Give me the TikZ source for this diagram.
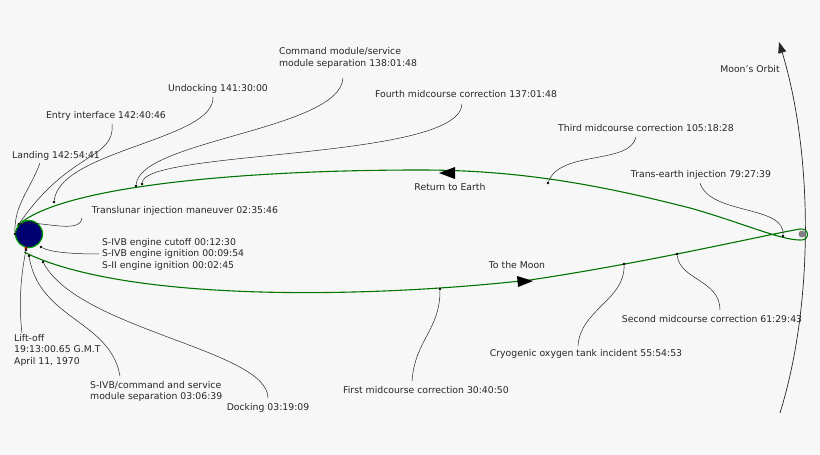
\documentclass[tikz,border=0pt]{standalone}
\usepackage{fontspec}
\setmainfont{DejaVu Sans}
\usetikzlibrary{arrows.meta}
\begin{document}
\begin{tikzpicture}[x=1pt,y=-1pt,
  traj/.style={draw=green!45!black,line width=1.1pt},
  lead/.style={draw=black!85,line width=0.5pt},
  lbl/.style={font=\fontsize{9.3}{11.5}\selectfont,inner sep=0pt,text=black!85},
  dotm/.style={circle,fill=black,inner sep=0pt,minimum size=2.6pt}]
\fill[black!3] (0,0) rectangle (820,455);
\useasboundingbox (0,0) rectangle (820,455);
% moon orbit
\draw[lead,line width=0.7pt,-{Triangle[length=11pt,width=8pt]}] (780,413) .. controls (815,300) and (812,150) .. (779,42);
\node[lbl] (mo) at (750,69) {Moon's Orbit};
% moon
\fill[gray] (802,234) circle (3.5);
% trajectory
\draw[traj] (24,252) .. controls (120,300) and (350,300) .. (530,280)
  .. controls (650,262) and (760,236) .. (800,229)
  .. controls (810,228) and (810,241) .. (800,240)
  .. controls (780,240) and (740,222) .. (690,208)
  .. controls (600,185) and (520,170) .. (420,170)
  .. controls (250,170) and (60,185) .. (17,226);
\fill (439,173) -- (455,167) -- (455,179) -- cycle;
\fill (533,281) -- (517,276) -- (518,287) -- cycle;
% earth
\draw[green!60!black,line width=1.2pt,fill=blue!45!black] (29,234) circle (13.5);
\fill[red!70!black] (26,248) circle (1.6);
% dots
\node[dotm] (dL) at (15,234) {};
\node[dotm] (dE) at (19,224) {};
\node[dotm] (dU) at (54,202) {};
\node[dotm] (dC) at (136,186) {};
\node[dotm] (dF) at (142,184) {};
\node[dotm] (dT) at (548,183) {};
\node[dotm] (dTE) at (783,236) {};
\node[dotm] (dS) at (41,247) {};
\node[dotm] (dLO) at (26,250) {};
\node[dotm] (dSC) at (29,256) {};
\node[dotm] (dD) at (43,262) {};
\node[dotm] (d1) at (440,289) {};
\node[dotm] (dCr) at (624,264) {};
\node[dotm] (d2) at (677,254) {};
% labels
\node[lbl] (tL) at (56,156) {Landing 142:54:41};
\node[lbl] (tE) at (106,116) {Entry interface 142:40:46};
\node[lbl] (tU) at (218,89) {Undocking 141:30:00};
\node[lbl,align=left] (tC) at (348,58) {Command module/service\\module separation 138:01:48};
\node[lbl] (tF) at (466,94) {Fourth midcourse correction 137:01:48};
\node[lbl] (tT) at (646,128) {Third midcourse correction 105:18:28};
\node[lbl] (tTE) at (701,175) {Trans-earth injection 79:27:39};
\node[lbl] (tR) at (450,187) {Return to Earth};
\node[lbl] (tM) at (517,265) {To the Moon};
\node[lbl] (tTL) at (185,211) {Translunar injection maneuver 02:35:46};
\node[lbl,align=left,anchor=west] (tS) at (102,254) {S-IVB engine cutoff 00:12:30\\S-IVB engine ignition 00:09:54\\S-II engine ignition 00:02:45};
\node[lbl,align=left,anchor=north west] (tLO) at (14,334) {Lift-off\\19:13:00.65 G.M.T\\April 11, 1970};
\node[lbl,align=left,anchor=north west] (tSC) at (90,381) {S-IVB/command and service\\module separation 03:06:39};
\node[lbl] (tD) at (268,408) {Docking 03:19:09};
\node[lbl] (t1) at (426,390) {First midcourse correction 30:40:50};
\node[lbl] (tCr) at (586,354) {Cryogenic oxygen tank incident 55:54:53};
\node[lbl] (t2) at (712,319) {Second midcourse correction 61:29:43};
% leaders
\draw[lead] (40,163) .. controls (30,190) and (14,205) .. (dL);
\draw[lead] (112,124) .. controls (115,160) and (70,150) .. (dE);
\draw[lead] (213,97) .. controls (215,140) and (60,150) .. (dU);
\draw[lead] (343,78) .. controls (340,130) and (140,140) .. (dC);
\draw[lead] (462,104) .. controls (460,160) and (145,150) .. (dF);
\draw[lead] (636,137) .. controls (630,165) and (560,150) .. (dT);
\draw[lead] (700,183) .. controls (710,215) and (785,205) .. (dTE);
\draw[lead] (82,218) .. controls (80,235) and (40,220) .. (dE);
\draw[lead] (99,254) .. controls (70,254) and (50,252) .. (dS);
\draw[lead] (22,333) .. controls (18,300) and (22,270) .. (dLO);
\draw[lead] (120,376) .. controls (110,320) and (40,320) .. (dSC);
\draw[lead] (268,398) .. controls (268,350) and (80,330) .. (dD);
\draw[lead] (412,381) .. controls (415,340) and (440,330) .. (d1);
\draw[lead] (578,346) .. controls (580,310) and (625,300) .. (dCr);
\draw[lead] (720,310) .. controls (720,280) and (680,280) .. (d2);
\end{tikzpicture}
\end{document}
